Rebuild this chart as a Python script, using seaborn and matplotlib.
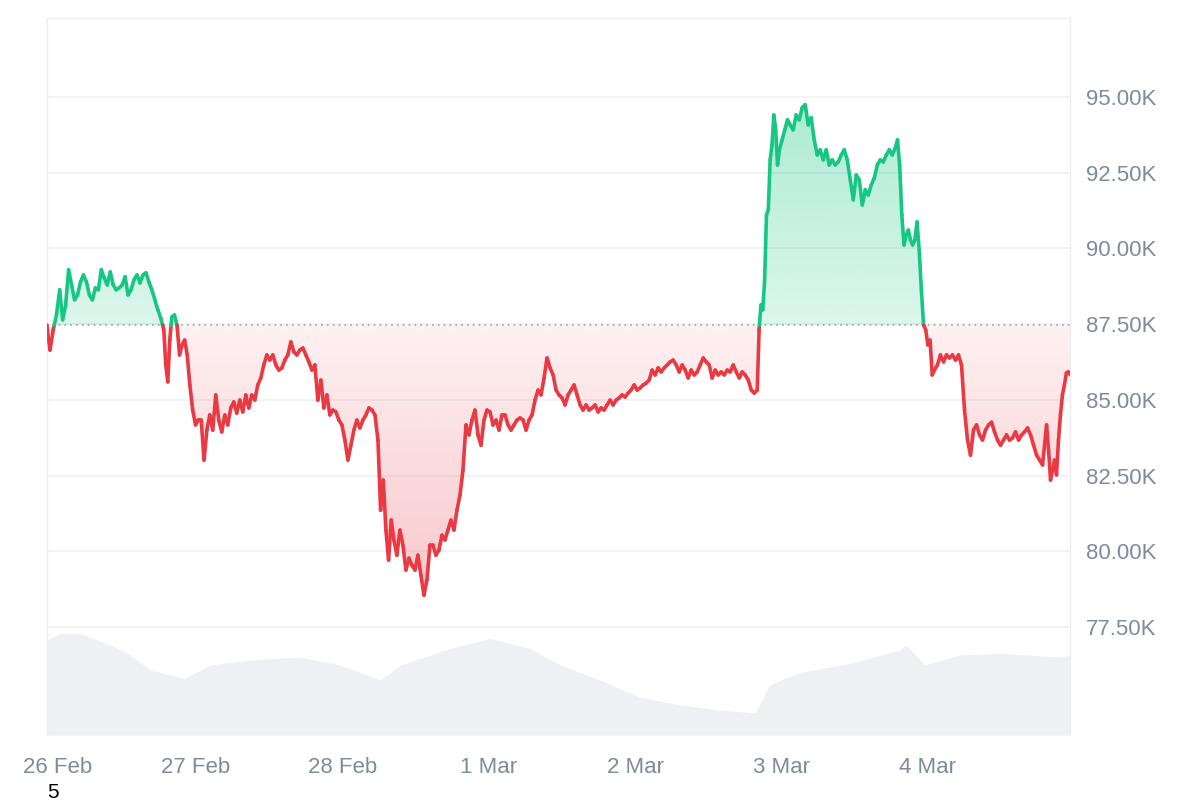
import numpy as np
import matplotlib
matplotlib.use("Agg")
import matplotlib.pyplot as plt
import matplotlib.transforms as mtransforms
import seaborn as sns
from matplotlib.collections import LineCollection
from matplotlib.colors import to_rgb
from matplotlib.path import Path

# price in thousands, sampled along the week (see anchor table for timing)
price = [
    87.47, 86.64, 87.31, 87.80, 88.63, 87.64, 88.13, 89.29, 88.79, 88.30,
    88.46, 88.89, 89.12, 88.89, 88.46, 88.30, 88.69, 88.63, 89.29, 89.02,
    88.79, 89.22, 88.79, 88.63, 88.69, 88.79, 89.06, 88.46, 88.63, 88.96,
    89.12, 88.86, 89.12, 89.19, 88.89, 88.63, 88.30, 87.97, 87.70, 87.31,
    86.15, 85.59, 86.97, 87.73, 87.80, 87.47, 86.48, 86.81, 86.97, 86.48,
    85.49, 84.66, 84.17, 84.33, 84.33, 83.01, 84.00, 84.50, 84.00, 85.16,
    84.33, 83.94, 84.50, 84.17, 84.73, 84.93, 84.56, 84.99, 84.60, 85.16,
    84.73, 85.16, 84.99, 85.49, 85.72, 86.15, 86.48, 86.31, 86.48, 86.15,
    85.98, 86.05, 86.31, 86.48, 86.91, 86.58, 86.48, 86.64, 86.71, 86.48,
    86.25, 85.98, 86.15, 84.99, 85.65, 84.73, 85.16, 84.50, 84.66, 84.60,
    84.33, 84.17, 83.67, 83.01, 83.50, 84.00, 84.33, 84.07, 84.33, 84.50,
    84.73, 84.66, 84.50, 83.67, 81.36, 82.35, 80.70, 79.71, 81.03, 80.37,
    79.87, 80.70, 80.20, 79.38, 79.77, 79.54, 79.38, 79.87, 79.21, 78.55,
    79.05, 80.20, 80.20, 79.87, 80.04, 80.53, 80.37, 80.70, 81.03, 80.70,
    81.36, 81.85, 82.68, 84.17, 83.84, 84.33, 84.66, 83.84, 83.50, 84.33,
    84.66, 84.60, 84.17, 84.33, 84.00, 84.50, 84.50, 84.17, 84.00, 84.17,
    84.33, 84.40, 84.33, 84.00, 84.33, 84.50, 84.99, 85.32, 85.16, 85.72,
    86.38, 86.05, 85.82, 85.32, 85.16, 85.06, 84.83, 85.16, 85.32, 85.49,
    85.16, 84.83, 84.66, 84.83, 84.66, 84.73, 84.83, 84.60, 84.73, 84.66,
    84.83, 84.99, 84.83, 84.99, 85.06, 85.16, 85.09, 85.22, 85.32, 85.49,
    85.32, 85.39, 85.49, 85.55, 85.65, 85.98, 85.82, 86.05, 85.92, 86.05,
    86.15, 86.25, 86.31, 86.15, 85.92, 86.15, 85.98, 85.72, 85.98, 85.82,
    85.92, 86.15, 86.38, 86.25, 86.15, 85.72, 85.98, 85.82, 85.92, 85.82,
    85.98, 85.92, 86.15, 85.92, 85.72, 85.92, 85.82, 85.65, 85.32, 85.22,
    85.32, 87.31, 88.13, 87.97, 88.96, 91.10, 91.27, 92.92, 93.41, 94.40,
    93.91, 92.75, 93.25, 93.58, 93.91, 94.24, 94.07, 93.91, 94.40, 94.24,
    94.64, 94.74, 94.07, 94.31, 93.58, 93.08, 93.25, 92.92, 93.25, 92.75,
    92.92, 92.75, 92.85, 93.08, 93.25, 92.92, 92.26, 91.60, 92.42, 92.26,
    91.43, 91.93, 91.76, 92.09, 92.32, 92.75, 92.92, 92.85, 93.08, 93.25,
    93.08, 93.31, 93.58, 92.75, 91.10, 90.11, 90.44, 90.60, 90.27, 90.11,
    90.27, 90.87, 89.94, 88.63, 87.47, 87.31, 86.81, 86.97, 85.82, 85.98,
    86.15, 86.48, 86.25, 86.48, 86.38, 86.48, 86.31, 86.48, 86.15, 84.66,
    83.67, 83.17, 84.00, 84.17, 83.84, 83.67, 84.00, 84.17, 84.26, 83.94,
    83.67, 83.50, 83.67, 83.84, 83.67, 83.74, 83.94, 83.67, 83.84, 83.94,
    84.07, 83.84, 83.50, 83.17, 83.01, 82.85, 83.50, 84.17, 83.34, 82.35,
    82.68, 83.01, 82.52, 83.67, 84.50, 85.16, 85.49, 85.89, 85.92, 85.82,
]
# (sample index, day since 26 Feb 00:00) timing anchors
anchor_idx = [0, 4, 39, 43, 50, 57, 113, 119, 240, 252, 253, 256, 291, 309, 310, 345, 359]
anchor_day = [-0.018, 0.070, 0.781, 0.836, 0.959, 1.095, 2.244, 2.353, 4.835,
              4.986, 5.005, 5.060, 5.778, 6.045, 6.066, 6.784, 6.974]

open_price = 87.46

vol_day = [-0.02, 0.07, 0.21, 0.41, 0.55, 0.69, 0.92, 1.10, 1.37, 1.71, 1.98, 2.26,
           2.40, 2.74, 3.01, 3.28, 3.49, 3.76, 4.03, 4.31, 4.58, 4.82, 4.92, 5.13,
           5.47, 5.81, 5.85, 5.98, 6.22, 6.50, 6.91, 6.97]
vol_pct = [13.2, 14.2, 14.2, 12.6, 11.2, 9.1, 7.9, 9.8, 10.5, 10.9, 9.8, 7.7,
           9.8, 12.1, 13.5, 12.1, 9.8, 7.7, 5.3, 4.2, 3.5, 3.1, 7.0, 8.8,
           10.0, 11.9, 12.6, 9.8, 11.2, 11.4, 10.9, 11.2]

day_labels = ["26 Feb", "27 Feb", "28 Feb", "1 Mar", "2 Mar", "3 Mar", "4 Mar"]
y_ticks = [77.5, 80.0, 82.5, 85.0, 87.5, 90.0, 92.5, 95.0]

GREEN = "#16c784"
RED = "#ea3943"
TXT = "#808a9d"

sns.set_theme(style="white")
plt.rcParams['font.family'] = ['Liberation Sans', 'DejaVu Sans']

p = np.array(price)
t = np.interp(np.arange(len(p)), anchor_idx, anchor_day)

fig = plt.figure(figsize=(12, 8), dpi=100)
ax = fig.add_axes([0.039, 0.081, 0.853, 0.8965])
ymin, ymax = 73.93, 97.6
xmin, xmax = -0.018, 6.974

for v in y_ticks:
    ax.axhline(v, color="#eff1f4", lw=1.2, zorder=0)

# volume area at the bottom
ax.fill_between(vol_day, 0, np.array(vol_pct) / 100, color="#eef0f3",
                transform=ax.get_xaxis_transform(), zorder=1, lw=0)


def grad_fill(mask, color, a_top, a_bottom, y0, y1):
    poly = ax.fill_between(t, open_price, p, where=mask, interpolate=True,
                           color="none", lw=0)
    img = np.zeros((256, 1, 4))
    img[:, 0, :3] = to_rgb(color)
    img[:, 0, 3] = np.linspace(a_top, a_bottom, 256)
    im = ax.imshow(img, extent=[xmin, xmax, y0, y1], aspect="auto", origin="upper",
                   zorder=2, interpolation="bilinear")
    paths = poly.get_paths()
    verts = np.concatenate([pp.vertices for pp in paths])
    codes = np.concatenate([pp.codes if pp.codes is not None else
                            np.r_[Path.MOVETO, [Path.LINETO] * (len(pp.vertices) - 1)]
                            for pp in paths])
    im.set_clip_path(Path(verts, codes), ax.transData)


grad_fill(p >= open_price, GREEN, 0.35, 0.15, open_price, p.max())
grad_fill(p <= open_price, RED, 0.07, 0.28, p.min(), open_price)
ax.set_xlim(xmin, xmax)
ax.set_ylim(ymin, ymax)

# baseline
ax.axhline(open_price, color="#9aa1ad", lw=1.2, ls=(0, (1, 2.5)), zorder=3)

# price line coloured by side of baseline (split at crossings)
xs, ys = [t[0]], [p[0]]
for i in range(1, len(p)):
    a, b = p[i - 1] - open_price, p[i] - open_price
    if a * b < 0:
        f = a / (a - b)
        xs.append(t[i - 1] + f * (t[i] - t[i - 1]))
        ys.append(open_price)
    xs.append(t[i])
    ys.append(p[i])
xs, ys = np.array(xs), np.array(ys)
segs = np.stack([np.c_[xs[:-1], ys[:-1]], np.c_[xs[1:], ys[1:]]], axis=1)
mid = (ys[:-1] + ys[1:]) / 2
cols = [GREEN if m > open_price else RED for m in mid]
lc = LineCollection(segs, colors=cols, linewidths=2.6, capstyle="round",
                    joinstyle="round", zorder=4)
ax.add_collection(lc)

ax.yaxis.tick_right()
ax.set_yticks(y_ticks)
ax.set_yticklabels([f"{v:.2f}K" for v in y_ticks], color=TXT, fontsize=16)
ax.set_xticks(range(len(day_labels)))
ax.set_xticklabels(day_labels, color=TXT, fontsize=16)
ax.tick_params(axis="x", length=0, pad=16)
ax.tick_params(axis="y", length=0, pad=11)
first = ax.get_xticklabels()[0]
first.set_transform(first.get_transform() +
                    mtransforms.ScaledTranslation(0.08, 0, fig.dpi_scale_trans))
for s in ["left", "right", "top"]:
    ax.spines[s].set_color("#eceef2")
    ax.spines[s].set_linewidth(1)
ax.spines["bottom"].set_visible(False)

fig.text(0.039, 0.003, "5", fontsize=15, color="black")

fig.savefig("out.png", dpi=100, facecolor="white")
